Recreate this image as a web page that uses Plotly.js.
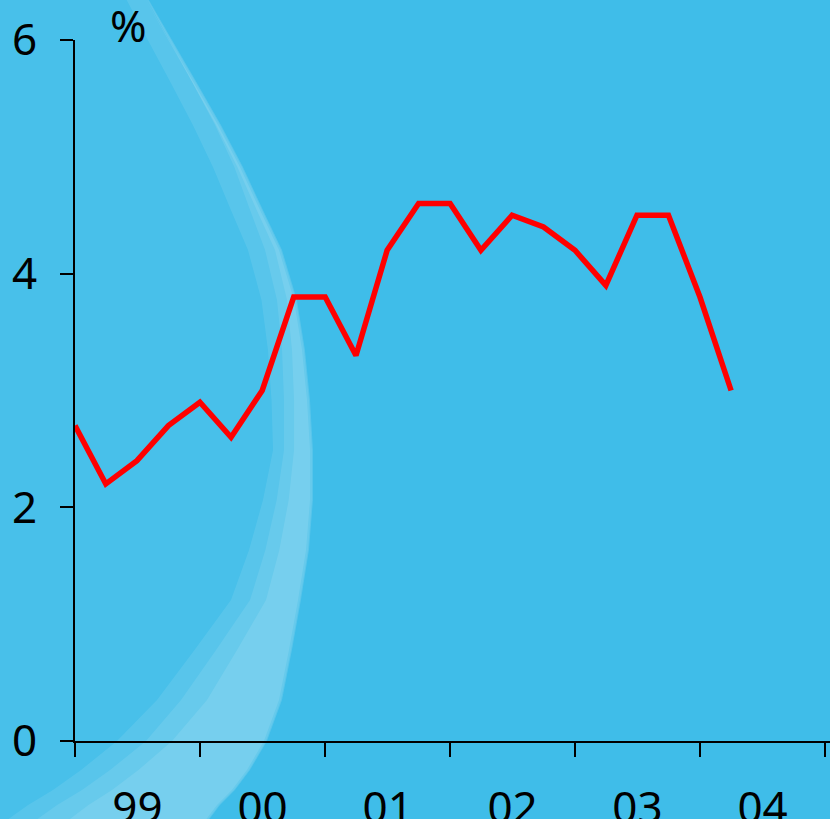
<!DOCTYPE html>
<html>
<head>
<meta charset="utf-8">
<script src="https://cdn.plot.ly/plotly-3.0.1.min.js"></script>
<style>
  html, body { margin: 0; padding: 0; background: #3FBDE9; }
  #chart { width: 830px; height: 819px; }
</style>
</head>
<body>
<div id="chart"></div>
<script>
// ---- data ----
var quarters = [
  "1999-01-01","1999-04-01","1999-07-01","1999-10-01",
  "2000-01-01","2000-04-01","2000-07-01","2000-10-01",
  "2001-01-01","2001-04-01","2001-07-01","2001-10-01",
  "2002-01-01","2002-04-01","2002-07-01","2002-10-01",
  "2003-01-01","2003-04-01","2003-07-01","2003-10-01",
  "2004-01-01","2004-04-01"
];
var rates = [
  2.7, 2.2, 2.4, 2.7,
  2.9, 2.6, 3.0, 3.8,
  3.8, 3.3, 4.2, 4.6,
  4.6, 4.2, 4.5, 4.4,
  4.2, 3.9, 4.5, 4.5,
  3.8, 3.0
];
var yTicks = [0, 2, 4, 6];
var unitLabel = "%";

// ---- decorative background (pixel outline -> paper coords) ----
var L = 75, T = 40, W = 755, H = 701;
function toPath(pts) {
  return pts.map(function (p, i) {
    var x = ((p[0] - L) / W).toFixed(4);
    var y = ((T + H - p[1]) / H).toFixed(4);
    return (i === 0 ? "M" : "L") + x + "," + y;
  }).join(" ") + " Z";
}
// outer edge of the pale disc, top to bottom (pixels)
var outer = [[146,-5],[172,40],[197,83],[221,125],[243,167],[263,210],[282,250],[297,300],[305,350],[310,400],[313,450],[313,500],[309,550],[301,600],[292,650],[282,700],[267,741],[250,770],[235,790],[220,805],[205,825]];
function interp(stops, y) {
  for (var i = 0; i < stops.length - 1; i++) {
    var a = stops[i], b = stops[i + 1];
    if (y <= b[0]) {
      var t = (y - a[0]) / (b[0] - a[0]);
      return a[1] + Math.max(0, Math.min(1, t)) * (b[1] - a[1]);
    }
  }
  return stops[stops.length - 1][1];
}
function rim(widthStops, inset) {
  var o = outer.map(function (p) { return [p[0] - inset, p[1]]; });
  var inn = outer.slice().reverse().map(function (p) {
    return [p[0] - inset - interp(widthStops, p[1]), p[1]];
  });
  return o.concat(inn);
}
var rim1 = rim([[-5,22],[250,34],[450,40],[600,70],[700,125],[741,150],[825,205]], 0);
var rim2 = rim([[-5,0],[150,6],[250,16],[450,28],[600,50],[700,100],[741,120],[825,175]], 1);
var rim3 = rim([[-5,0],[250,4],[450,16],[600,32],[700,72],[741,92],[825,140]], 3);
var regionPts = [[-10,-10]].concat(outer).concat([[-10,830]]);

function pathShape(pts, fill) {
  return {type: "path", xref: "paper", yref: "paper", layer: "below",
          path: toPath(pts), fillcolor: fill, line: {width: 0}};
}
var shapes = [
  pathShape(regionPts, "rgba(255,255,255,0.05)"),
  pathShape(rim1, "rgba(255,255,255,0.09)"),
  pathShape(rim2, "rgba(255,255,255,0.09)"),
  pathShape(rim3, "rgba(255,255,255,0.10)")
];

var trace = {
  x: quarters,
  y: rates,
  type: "scatter",
  mode: "lines",
  line: {color: "#FF0000", width: 5.5, shape: "linear"},
  hoverinfo: "skip"
};

var font = {family: "Noto Sans, Open Sans, sans-serif", size: 44, color: "#000000"};

var layout = {
  width: 830,
  height: 819,
  margin: {l: L, r: 0, t: T, b: 78, pad: 0},
  paper_bgcolor: "#3FBDE9",
  plot_bgcolor: "rgba(0,0,0,0)",
  showlegend: false,
  font: font,
  shapes: shapes,
  xaxis: {
    type: "date",
    range: ["1999-01-01", "2005-01-15"],
    tick0: "1999-01-01",
    dtick: "M12",
    tickformat: "%y",
    ticklabelmode: "period",
    ticks: "outside",
    ticklen: 14,
    tickwidth: 2,
    tickcolor: "#000000",
    showline: true,
    linecolor: "#000000",
    linewidth: 2,
    showgrid: false,
    zeroline: false,
    ticklabelstandoff: 13,
    tickfont: font,
    fixedrange: true
  },
  yaxis: {
    range: [0, 6],
    tickvals: yTicks,
    ticktext: yTicks.map(String),
    ticks: "outside",
    ticklen: 13,
    tickwidth: 2,
    tickcolor: "#000000",
    showline: true,
    linecolor: "#000000",
    linewidth: 2,
    showgrid: false,
    zeroline: false,
    ticklabelstandoff: 14,
    tickfont: font,
    fixedrange: true
  },
  annotations: [{
    text: unitLabel,
    xref: "paper", yref: "paper",
    x: (128 - L) / W, y: (T + H - 25) / H,
    xanchor: "center", yanchor: "middle",
    showarrow: false,
    font: {family: "Noto Sans, Open Sans, sans-serif", size: 44, color: "#000000"}
  }]
};

Plotly.newPlot("chart", [trace], layout, {staticPlot: true, displayModeBar: false});
</script>
</body>
</html>
